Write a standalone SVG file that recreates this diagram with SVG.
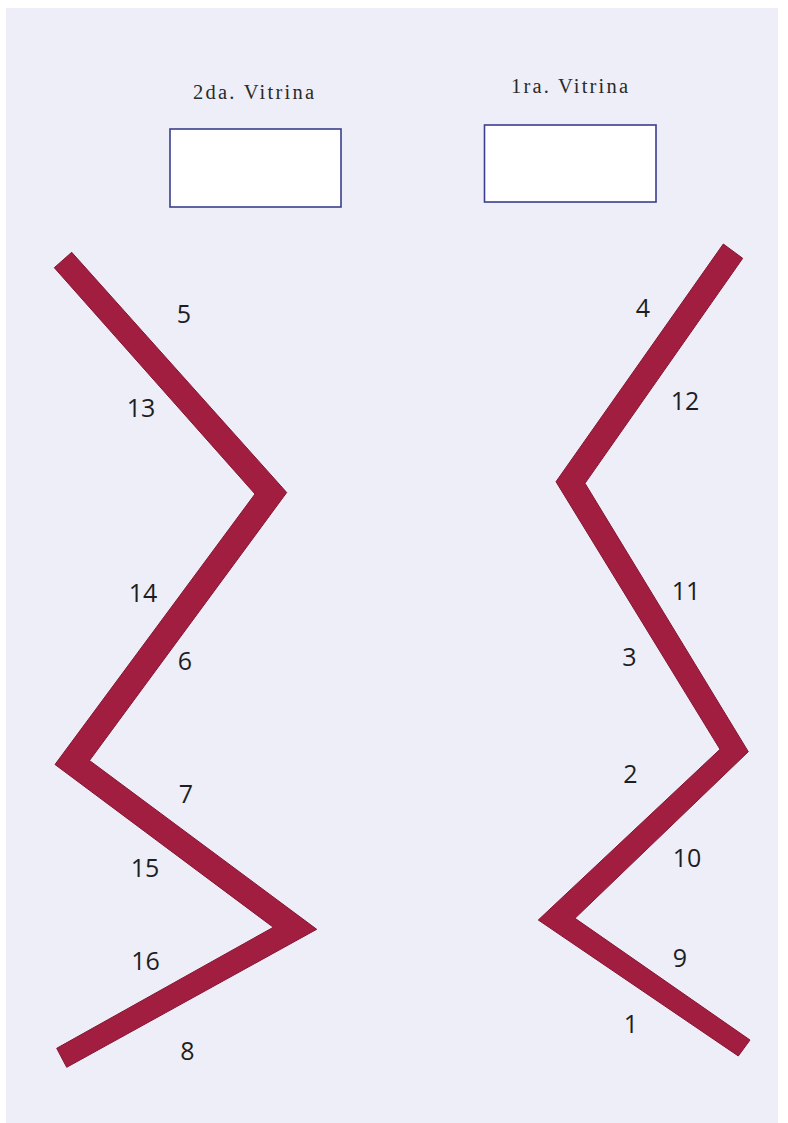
<svg xmlns="http://www.w3.org/2000/svg" width="788" height="1123" viewBox="0 0 788 1123">
<style>
.title{font-family:"Liberation Serif","Times New Roman",serif;font-size:20.5px;fill:#2a2a2a}
.vit{fill:#ffffff;stroke:#3b3f8c;stroke-width:1.6}
.zig{fill:#a21e40;stroke:#861530;stroke-width:1;stroke-linejoin:miter}
.num{font-family:"Open Sans","Noto Sans",sans-serif;font-size:25px;fill:#1e1e22;text-anchor:middle}
</style>
<rect x="0" y="0" width="788" height="1123" fill="#ffffff"/>
<rect x="6" y="8" width="772" height="1115" fill="#eeeef8"/>
<g id="vitrina2">
<text class="title" x="193" y="99" textLength="121" lengthAdjust="spacing">2da. Vitrina</text>
<rect class="vit" x="170" y="129" width="171" height="78"/>
</g>
<g id="vitrina1">
<text class="title" x="511" y="93" textLength="117" lengthAdjust="spacing">1ra. Vitrina</text>
<rect class="vit" x="484.5" y="125" width="171.5" height="77"/>
</g>
<g id="zigzag-left">
<polygon class="zig" points="71.7,252.3 286.7,492.5 89.5,760.5 316.7,929.3 66.7,1067.3 56.7,1048.3 273.3,927.3 55,764.5 255,494 54.3,267.7"/>
</g>
<g id="zigzag-right">
<polygon class="zig" points="723.3,244 556,481.7 720,749.3 538.3,920 738.3,1056 750,1040 575,918.3 748.3,751.7 585,483.3 742.7,258.3"/>
</g>
<g id="numbers">
<text class="num" x="184" y="323">5</text>
<text class="num" x="141" y="417">13</text>
<text class="num" x="143" y="602">14</text>
<text class="num" x="185" y="670">6</text>
<text class="num" x="186" y="803">7</text>
<text class="num" x="145" y="877">15</text>
<text class="num" x="145.5" y="970">16</text>
<text class="num" x="187.5" y="1060">8</text>
<text class="num" x="643" y="317">4</text>
<text class="num" x="685" y="410">12</text>
<text class="num" x="686" y="600">11</text>
<text class="num" x="629.5" y="666">3</text>
<text class="num" x="630.5" y="783">2</text>
<text class="num" x="687" y="867">10</text>
<text class="num" x="680" y="967">9</text>
<text class="num" x="631" y="1033">1</text>
</g>
</svg>
